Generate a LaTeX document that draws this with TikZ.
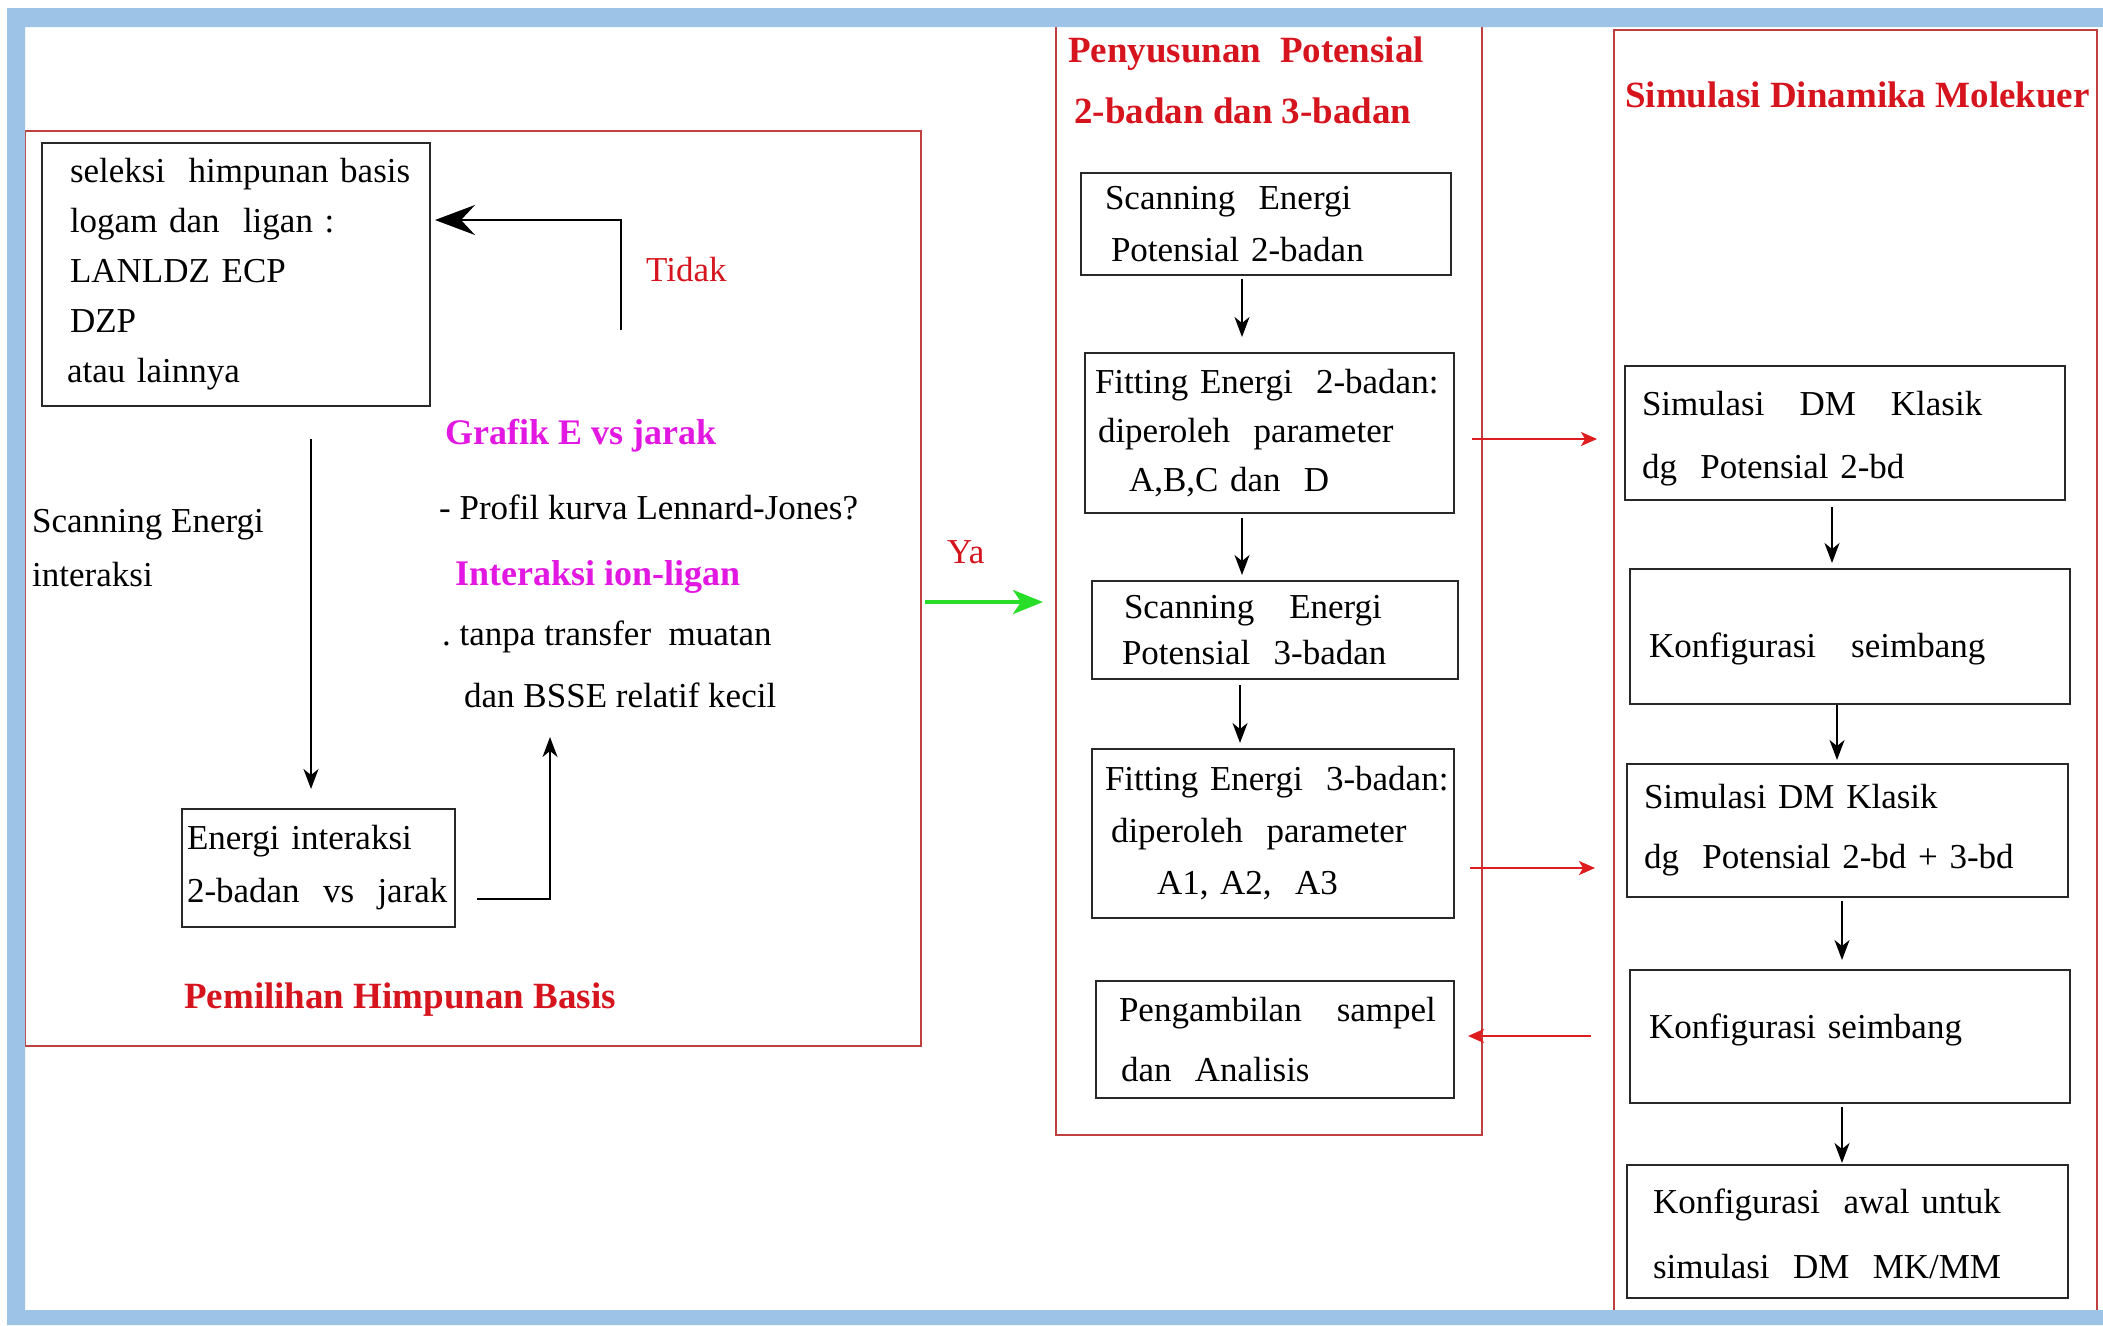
\documentclass[tikz,border=0pt]{standalone}
\usepackage{fontspec}
\setmainfont{Liberation Serif}
\usetikzlibrary{arrows.meta}
\definecolor{bluef}{RGB}{157,195,230}
\definecolor{redbox}{RGB}{192,64,64}
\definecolor{redtxt}{RGB}{214,20,30}
\definecolor{mag}{RGB}{226,24,226}
\definecolor{grn}{RGB}{40,222,40}
\definecolor{redarr}{RGB}{222,30,30}
\definecolor{boxc}{RGB}{40,40,40}
\newcommand\tl[2]{\mbox{\hspace*{#1pt}#2}}
\newcommand\fsz[1]{\fontsize{35}{#1}\selectfont}
\begin{document}
\begin{tikzpicture}[x=1pt,y=-1pt,
  redframe/.style={draw=redbox, line width=2.4pt, anchor=north west, inner sep=0pt, outer sep=0pt},
  bbox/.style={draw=boxc, line width=2.2pt, anchor=north west, align=left, inner xsep=2pt, inner ysep=0pt, outer sep=0pt},
  arr/.style={draw=black, line width=2pt, -{Stealth[length=20pt,width=15pt,inset=6pt]}},
  bigarr/.style={draw=black, line width=2pt, -{Stealth[length=40pt,width=30pt,inset=14pt]}},
  rarr/.style={draw=redarr, line width=2pt, -{Stealth[length=16pt,width=14pt,inset=4pt]}},
  garr/.style={draw=grn, line width=4pt, -{Stealth[length=30pt,width=24pt,inset=8pt]}},
  lbl/.style={anchor=west, inner sep=0pt, font=\fsz{42}},
  ttl/.style={anchor=west, inner sep=0pt, text=redtxt, font={\fontsize{37}{44}\selectfont\bfseries}},
]
\useasboundingbox (0,0) rectangle (2103,1325);
\fill[white] (0,0) rectangle (2103,1325);

% red section frames
\node[redframe, minimum width=896pt, minimum height=915pt] (LB) at (25,131) {};
\node[redframe, minimum width=426pt, minimum height=1117pt] (MB) at (1056,18) {};
\node[redframe, minimum width=483pt, minimum height=1286pt] (RB) at (1614,30) {};

% left section boxes
\node[bbox, minimum width=388pt, minimum height=263pt, text width=384pt, font=\fsz{50}] (B1) at (42,143)
 {\tl{26}{seleksi\ \ himpunan basis}\\ \tl{26}{logam dan\ \ ligan :}\\ \tl{26}{LANLDZ ECP}\\ \tl{26}{DZP}\\ \tl{23}{atau lainnya}};
\node[bbox, minimum width=273pt, minimum height=118pt, text width=269pt, font=\fsz{53}] (B2) at (182,809)
 {\tl{3}{Energi interaksi}\\ \tl{3}{2-badan\ \ vs\ \ jarak}};

% middle section boxes
\node[bbox, minimum width=370pt, minimum height=102pt, text width=366pt, font=\fsz{52}] (M1) at (1081,173)
 {\tl{22}{Scanning\ \ Energi}\\ \tl{28}{Potensial 2-badan}};
\node[bbox, minimum width=369pt, minimum height=160pt, text width=365pt, font=\fsz{49}] (M2) at (1085,353)
 {\tl{8}{Fitting Energi\ \ 2-badan:}\\ \tl{11}{diperoleh\ \ parameter}\\ \tl{42}{A,B,C dan\ \ D}};
\node[bbox, minimum width=366pt, minimum height=98pt, text width=362pt, font=\fsz{46}] (M3) at (1092,581)
 {\tl{30}{Scanning\ \ \ Energi}\\ \tl{28}{Potensial\ \ 3-badan}};
\node[bbox, minimum width=362pt, minimum height=169pt, text width=358pt, font=\fsz{52}] (M4) at (1092,749)
 {\tl{11}{Fitting Energi\ \ 3-badan:}\\ \tl{17}{diperoleh\ \ parameter}\\ \tl{63}{A1, A2,\ \ A3}};
\node[bbox, minimum width=358pt, minimum height=117pt, text width=354pt, font=\fsz{60}] (M5) at (1096,981)
 {\tl{21}{Pengambilan\ \ \ sampel}\\ \tl{23}{dan\ \ Analisis}};

% right section boxes
\node[bbox, minimum width=440pt, minimum height=134pt, text width=436pt, font=\fsz{63}] (R1) at (1625,366)
 {\tl{15}{\rule{0pt}{36pt}Simulasi\ \ \ DM\ \ \ Klasik}\\ \tl{15}{dg\ \ Potensial 2-bd}};
\node[bbox, minimum width=440pt, minimum height=135pt, text width=436pt, font=\fsz{50}] (R2) at (1630,569)
 {\tl{17}{\rule{0pt}{50pt}Konfigurasi\ \ \ seimbang}};
\node[bbox, minimum width=441pt, minimum height=133pt, text width=437pt, font=\fsz{60}] (R3) at (1627,764)
 {\tl{15}{Simulasi DM Klasik}\\ \tl{15}{dg\ \ Potensial 2-bd + 3-bd}};
\node[bbox, minimum width=440pt, minimum height=133pt, text width=436pt, font=\fsz{50}] (R4) at (1630,970)
 {\tl{17}{\rule[-20pt]{0pt}{20pt}Konfigurasi seimbang}};
\node[bbox, minimum width=441pt, minimum height=133pt, text width=437pt, font=\fsz{65}] (R5) at (1627,1165)
 {\tl{24}{\rule{0pt}{30pt}Konfigurasi\ \ awal untuk}\\ \tl{24}{simulasi\ \ DM\ \ MK/MM}};

% labels
\node[lbl, text=redtxt] (tidak) at (646,270) {Tidak};
\node[lbl, align=left, font=\fsz{54}] (scanlbl) at (32,548) {Scanning Energi\\interaksi};
\node[lbl, text=mag, font={\fontsize{36}{42}\selectfont\bfseries}] (grafik) at (445,436) {Grafik E vs jarak};
\node[lbl] (profil) at (439,507) {-\ Profil kurva Lennard-Jones?};
\node[lbl, text=redtxt] (ya) at (947,552) {Ya};
\node[lbl, text=mag, font={\fontsize{36}{42}\selectfont\bfseries}] (inter) at (455,577) {Interaksi ion-ligan};
\node[lbl] (tanpa) at (442,637) {.\ tanpa transfer\ \ muatan};
\node[lbl] (bsse) at (464,695) {dan BSSE relatif kecil};
\node[ttl] (pemilihan) at (184,1000) {Pemilihan Himpunan Basis};
\node[ttl] (penyusunan) at (1068,54) {Penyusunan\ \ Potensial};
\node[ttl] (duabadan) at (1074,111) {2-badan dan 3-badan};
\node[ttl] (simdm) at (1625,95) {Simulasi Dinamika Molekuer};

% left connectors
\coordinate (t0) at (621,330);
\coordinate (t1) at (621,220);
\draw[bigarr, shorten >=5pt] (t0) -- (t1) -- (B1.east |- t1);
\coordinate (s0) at (311,439);
\draw[arr, shorten >=20pt] (s0) -- (s0 |- B2.north);
\coordinate (u1) at (550,737);
\draw[arr, shorten <=22pt] ([yshift=-31pt]B2.east) -| (u1);
\coordinate (g) at (0,602);
\draw[garr, shorten <=4pt, shorten >=13pt] (LB.east |- g) -- (MB.west |- g);

% middle connectors
\coordinate (xa) at (1242,0);
\coordinate (xb) at (1240,0);
\draw[arr, shorten <=4pt, shorten >=16pt] (xa |- M1.south) -- (xa |- M2.north);
\draw[arr, shorten <=5pt, shorten >=6pt] (xa |- M2.south) -- (xa |- M3.north);
\draw[arr, shorten <=6pt, shorten >=6pt] (xb |- M3.south) -- (xb |- M4.north);

% right connectors
\coordinate (xc) at (1832,0);
\coordinate (xd) at (1837,0);
\coordinate (xe) at (1842,0);
\draw[arr, shorten <=7pt, shorten >=6pt] (xc |- R1.south) -- (xc |- R2.north);
\draw[arr, shorten <=1pt, shorten >=4pt] (xd |- R2.south) -- (xd |- R3.north);
\draw[arr, shorten <=4pt, shorten >=10pt] (xe |- R3.south) -- (xe |- R4.north);
\draw[arr, shorten <=4pt, shorten >=2pt] (xe |- R4.south) -- (xe |- R5.north);

% red cross connectors
\coordinate (ra) at (0,439);
\coordinate (rb) at (0,868);
\coordinate (rc) at (0,1036);
\draw[rarr, shorten <=18pt, shorten >=28pt] (M2.east |- ra) -- (R1.west |- ra);
\draw[rarr, shorten <=16pt, shorten >=32pt] (M4.east |- rb) -- (R3.west |- rb);
\draw[rarr, shorten <=39pt, shorten >=14pt] (R4.west |- rc) -- (M5.east |- rc);

% blue frame
\fill[bluef, even odd rule] (7,8) rectangle (2103,1325) (25,27) rectangle (2103,1310);
\end{tikzpicture}
\end{document}
